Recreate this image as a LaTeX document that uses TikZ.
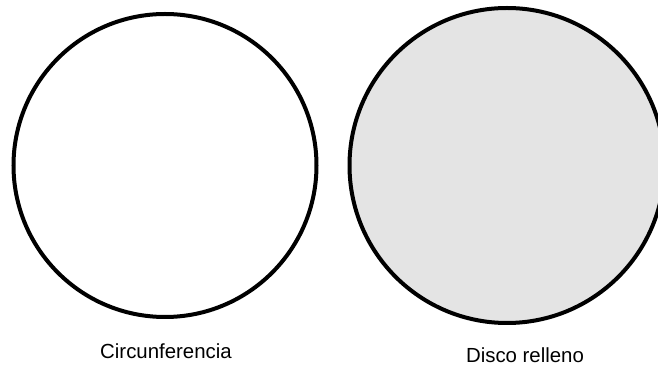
\documentclass[tikz,border=0pt]{standalone}
\usepackage{fontspec}
\setmainfont{Liberation Sans}
\usepackage{xcolor}
\definecolor{discgray}{RGB}{228,228,228}

\begin{document}
\begin{tikzpicture}[x=0.75pt,y=-0.75pt,
    rim/.style={line width=3pt},
    caption/.style={font=\fontsize{15.3}{18}\selectfont}]
    \useasboundingbox (0,0) rectangle (658,377);
    \clip (0,0) rectangle (658,377);
    \draw[rim] (165,165.5) circle[radius=151.5];
    \draw[rim, fill=discgray] (507,165.5) circle[radius=157.5];
    \node[caption] (circlabel) at (166,351) {Circunferencia};
    \node[caption] (disclabel) at (525,355) {Disco relleno};
\end{tikzpicture}
\end{document}
